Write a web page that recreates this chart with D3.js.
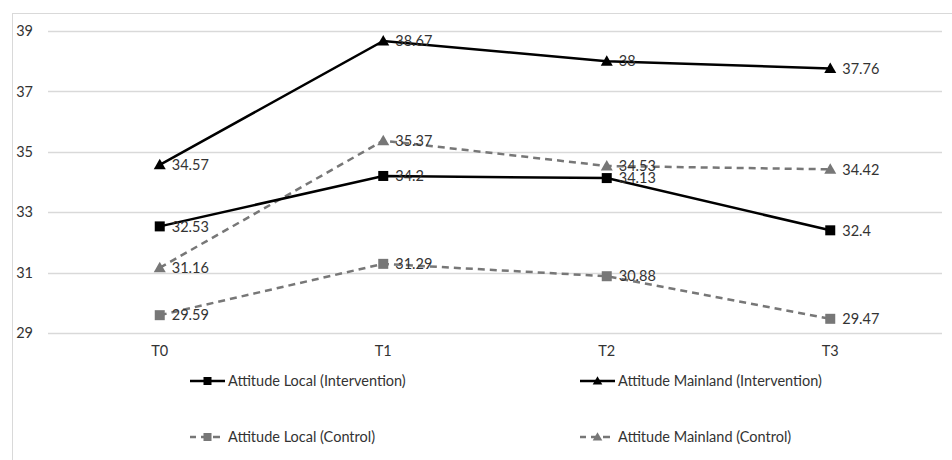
<!DOCTYPE html>
<html><head><meta charset="utf-8">
<script src="https://cdn.jsdelivr.net/npm/d3@7"></script>
<style>body{margin:0;background:#fff;}svg{display:block;}</style>
</head><body><svg id="c" width="952" height="460"></svg>
<script>
const categories = ["T0","T1","T2","T3"];
const localIntervention = [32.53, 34.2, 34.13, 32.4];
const mainlandIntervention = [34.57, 38.67, 38, 37.76];
const localControl = [29.59, 31.29, 30.88, 29.47];
const mainlandControl = [31.16, 35.37, 34.53, 34.42];
const yTicks = [29, 31, 33, 35, 37, 39];
const seriesNames = ["Attitude Local (Intervention)", "Attitude Mainland (Intervention)", "Attitude Local (Control)", "Attitude Mainland (Control)"];

const series = [
  {name: seriesNames[0], values: localIntervention, color: "#000", dash: null, shape: "square"},
  {name: seriesNames[1], values: mainlandIntervention, color: "#000", dash: null, shape: "triangle"},
  {name: seriesNames[2], values: localControl, color: "#777", dash: "7,5", shape: "square"},
  {name: seriesNames[3], values: mainlandControl, color: "#777", dash: "7,5", shape: "triangle"}
];

const svg = d3.select("#c");
const font = "Lato, 'Open Sans', sans-serif";
const fs = 14.5;
const txt = "#333";
svg.append("rect").attr("x",12.5).attr("y",13.5).attr("width",960).attr("height",460)
  .attr("fill","none").attr("stroke","#d9d9d9");

const x = d3.scaleBand().domain(categories).range([48, 942]);
const y = d3.scaleLinear().domain([29, 39]).range([333, 31]);

svg.append("g").selectAll("line").data(yTicks).join("line")
  .attr("x1",48).attr("x2",942).attr("y1",d=>Math.round(y(d))+0.5).attr("y2",d=>Math.round(y(d))+0.5)
  .attr("stroke","#d9d9d9").attr("stroke-width",1.5);

const yAxis = svg.append("g").attr("transform","translate(33,0)")
  .call(d3.axisLeft(y).tickValues(yTicks).tickSize(0).tickPadding(0));
yAxis.select(".domain").remove();
yAxis.selectAll("text").attr("font-family",font).attr("font-size",fs).attr("fill",txt).attr("text-anchor","end");

const xAxis = svg.append("g").attr("transform","translate(0,346)")
  .call(d3.axisBottom(x).tickSize(0).tickPadding(0));
xAxis.select(".domain").remove();
xAxis.selectAll("text").attr("font-family",font).attr("font-size",fs).attr("fill",txt).attr("dy","0.71em");

const cx = d => x(d) + x.bandwidth()/2;
const line = d3.line().x((d,i)=>cx(categories[i])).y(d=>y(d));

function marker(g, shape, color, px, py, s) {
  if (shape === "square") {
    g.append("rect").attr("x",px-s/2).attr("y",py-s/2).attr("width",s).attr("height",s).attr("fill",color);
  } else {
    const h = s;
    g.append("path").attr("d",`M${px},${py-h*0.6}L${px+s*0.6},${py+h*0.45}L${px-s*0.6},${py+h*0.45}Z`).attr("fill",color);
  }
}

const order = [2,3,0,1];
order.forEach(k => {
  const s = series[k];
  const g = svg.append("g");
  g.append("path").datum(s.values).attr("d",line).attr("fill","none")
    .attr("stroke",s.color).attr("stroke-width",2.5).attr("stroke-dasharray",s.dash);
  s.values.forEach((v,i)=>{
    marker(g, s.shape, s.color, cx(categories[i]), y(v), 10);
  });
});
order.forEach(k => {
  const s = series[k];
  s.values.forEach((v,i)=>{
    svg.append("text").attr("x",cx(categories[i])+12).attr("y",y(v)).attr("dy","0.36em")
      .attr("font-family",font).attr("font-size",fs).attr("fill",txt).text(v);
  });
});

const legPos = [[190,381],[580,381],[190,437],[580,437]];
series.forEach((s,k)=>{
  const [lx,ly] = legPos[k];
  const g = svg.append("g");
  g.append("line").attr("x1",lx).attr("x2",lx+35).attr("y1",ly).attr("y2",ly)
    .attr("stroke",s.color).attr("stroke-width",2.5).attr("stroke-dasharray", s.dash ? "7,5" : null)
    .attr("stroke-dashoffset", s.dash ? 1 : null);
  marker(g, s.shape, s.color, lx+17.5, ly, 8);
  g.append("text").attr("x",lx+38).attr("y",ly).attr("dy","0.36em")
    .attr("font-family",font).attr("font-size",fs).attr("fill",txt).text(s.name);
});
</script></body></html>
